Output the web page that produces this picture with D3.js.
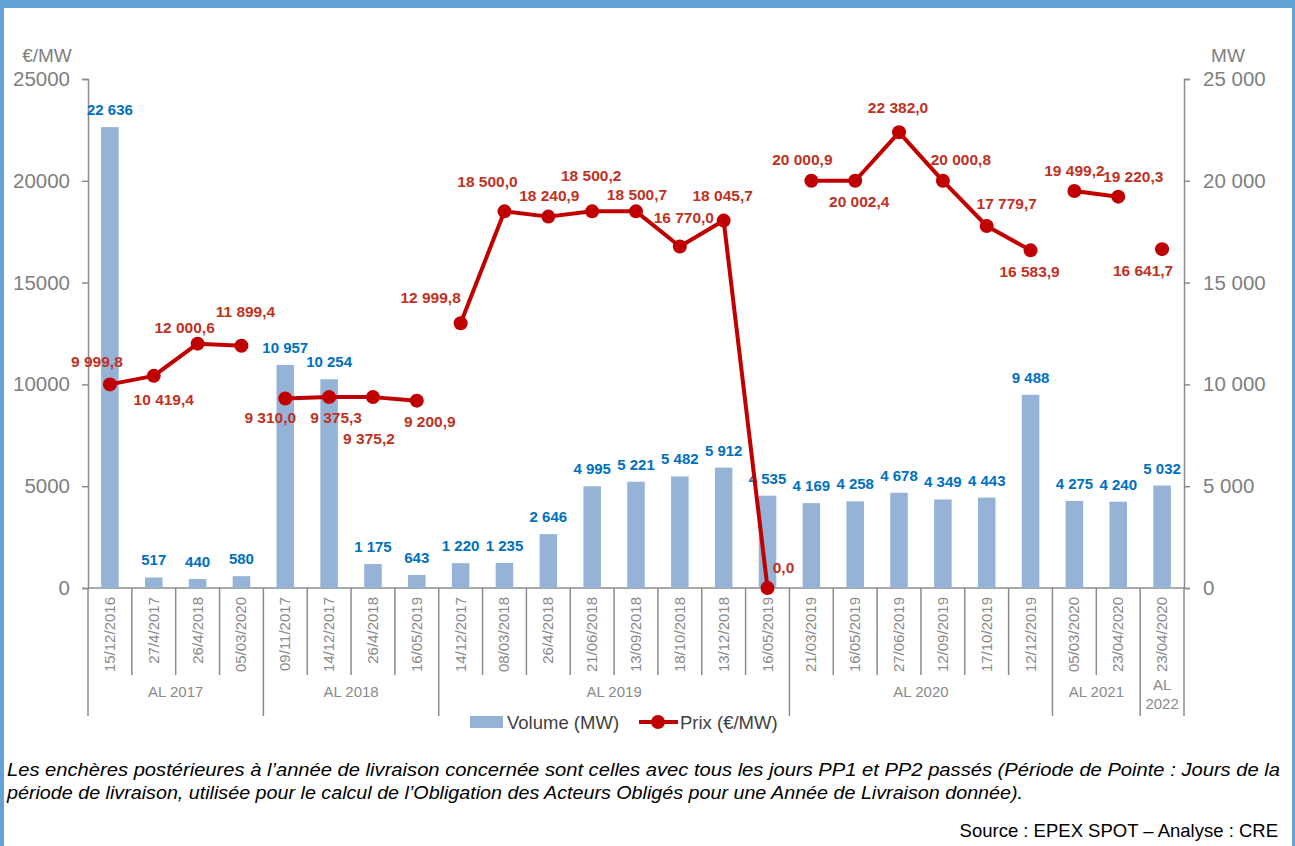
<!DOCTYPE html>
<html>
<head>
<meta charset="utf-8">
<script src="https://cdn.jsdelivr.net/npm/d3@7"></script>
<style>
  html, body { margin: 0; padding: 0; background: #fff; }
  svg { display: block; }
</style>
</head>
<body>
<svg id="chart" width="1295" height="846"></svg>
<script>
// Auction dates (x categories), grouped by delivery year
const dates = ["15/12/2016","27/4/2017","26/4/2018","05/03/2020",
  "09/11/2017","14/12/2017","26/4/2018","16/05/2019",
  "14/12/2017","08/03/2018","26/4/2018","21/06/2018","13/09/2018","18/10/2018","13/12/2018","16/05/2019",
  "21/03/2019","16/05/2019","27/06/2019","12/09/2019","17/10/2019","12/12/2019",
  "05/03/2020","23/04/2020",
  "23/04/2020"];
const groups = [
  { name: ["AL 2017"], size: 4 },
  { name: ["AL 2018"], size: 4 },
  { name: ["AL 2019"], size: 8 },
  { name: ["AL 2020"], size: 6 },
  { name: ["AL 2021"], size: 2 },
  { name: ["AL", "2022"], size: 1 }
];
// Volume allocated (MW)
const volumes = [22636, 517, 440, 580, 10957, 10254, 1175, 643,
  1220, 1235, 2646, 4995, 5221, 5482, 5912, 4535,
  4169, 4258, 4678, 4349, 4443, 9488, 4275, 4240, 5032];
// Clearing price (€/MW)
const prices = [9999.8, 10419.4, 12000.6, 11899.4, 9310.0, 9375.3, 9375.2, 9200.9,
  12999.8, 18500.0, 18240.9, 18500.2, 18500.7, 16770.0, 18045.7, 0.0,
  20000.9, 20002.4, 22382.0, 20000.8, 17779.7, 16583.9, 19499.2, 19220.3, 16641.7];
const leftTicks = [0, 5000, 10000, 15000, 20000, 25000];
const rightTicks = [0, 5000, 10000, 15000, 20000, 25000];

// Price label placement relative to each marker [dx, dy]
const priceLabelShift = [[-13,-23],[10,24],[-13,-16],[4,-34],[-15,19],[7,20],[-4,41],[13,21],
  [-30,-26],[-17,-30],[1,-21],[-1,-36],[1,-17],[4,-29],[-1,-25],[16,-21],
  [-9,-21],[4,21],[-1,-25],[18,-21],[20,-23],[-1,21],[0,-21],[15,-20],[-19,21]];

const svg = d3.select("#chart");
const W = 1295, H = 846;
const x0 = 88, x1 = 1184, yTop = 79, yBase = 588;
const gray = "#7f7f7f", axisGray = "#8c8c8c";
const frFmt = v => d3.format(",")(v).replace(/,/g, " ");
const frFmt1 = v => d3.format(",.1f")(v).replace(/,/g, " ").replace(".", ",");

// page frame
svg.append("rect").attr("x", 0).attr("y", 0).attr("width", W).attr("height", 8).attr("fill", "#64a2d6");
svg.append("rect").attr("x", 0).attr("y", 0).attr("width", 4).attr("height", H).attr("fill", "#64a2d6");
svg.append("rect").attr("x", 1292).attr("y", 0).attr("width", 3).attr("height", H).attr("fill", "#64a2d6");

const x = d3.scaleBand().domain(d3.range(dates.length)).range([x0, x1]).paddingInner(0.6).paddingOuter(0.3);
const xs = d3.scaleBand().domain(d3.range(dates.length)).range([x0, x1]);
const yL = d3.scaleLinear().domain([0, 25000]).range([yBase, yTop]);
const yR = d3.scaleLinear().domain([0, 25000]).range([yBase, yTop]);

// axes
const fontAx = "'Liberation Sans', Arial, sans-serif";
const gL = svg.append("g").attr("transform", `translate(${x0},0)`)
  .call(d3.axisLeft(yL).tickValues(leftTicks).tickSize(6).tickPadding(12).tickFormat(d3.format("d")));
const gR = svg.append("g").attr("transform", `translate(${x1},0)`)
  .call(d3.axisRight(yR).tickValues(rightTicks).tickSize(6).tickPadding(13).tickFormat(frFmt));
[gL, gR].forEach(g => {
  g.select(".domain").attr("stroke", axisGray).attr("stroke-width", 1.5);
  g.selectAll(".tick line").attr("stroke", axisGray).attr("stroke-width", 1.5);
  g.selectAll(".tick text").attr("fill", gray).attr("font-size", 20.5).attr("font-family", fontAx);
});
svg.append("text").attr("x", 47).attr("y", 62).attr("text-anchor", "middle").attr("fill", gray)
  .attr("font-size", 19).attr("font-family", fontAx).text("€/MW");
svg.append("text").attr("x", 1228).attr("y", 62).attr("text-anchor", "middle").attr("fill", gray)
  .attr("font-size", 19).attr("font-family", fontAx).text("MW");

// category axis: baseline, separators, rotated dates, group names
const sep = svg.append("g").attr("stroke", axisGray).attr("stroke-width", 1.5);
sep.append("line").attr("x1", x0).attr("x2", x1).attr("y1", yBase).attr("y2", yBase);
let start = 0;
const groupBounds = [];
groups.forEach(g => { groupBounds.push([start, start + g.size]); start += g.size; });
const groupEdges = new Set(groupBounds.map(b => b[0]).concat([dates.length]));
for (let i = 0; i <= dates.length; i++) {
  const xx = i < dates.length ? xs(i) : x1;
  sep.append("line").attr("x1", xx).attr("x2", xx).attr("y1", yBase)
    .attr("y2", groupEdges.has(i) ? 716 : 675);
}
svg.append("g").selectAll("text").data(dates).join("text")
  .attr("transform", (d, i) => `translate(${xs(i) + xs.bandwidth() / 2 + 5},597) rotate(-90)`)
  .attr("text-anchor", "end").attr("fill", "#8a8a8a").attr("font-size", 15)
  .attr("font-family", fontAx).text(d => d);
svg.append("g").selectAll("text").data(groups).join("text")
  .attr("x", (d, i) => (xs(groupBounds[i][0]) + (groupBounds[i][1] < dates.length ? xs(groupBounds[i][1]) : x1)) / 2)
  .attr("y", d => d.name.length > 1 ? 690 : 697)
  .attr("text-anchor", "middle").attr("fill", "#8a8a8a").attr("font-size", 15).attr("font-family", fontAx)
  .each(function (d) {
    const t = d3.select(this);
    d.name.forEach((n, k) => t.append("tspan").attr("x", t.attr("x")).attr("dy", k ? 19 : 0).text(n));
  });

// volume bars
svg.append("g").selectAll("rect").data(volumes).join("rect")
  .attr("x", (d, i) => x(i)).attr("width", x.bandwidth())
  .attr("y", d => yR(d)).attr("height", d => yBase - yR(d)).attr("fill", "#95b3d7");
const fontLbl = "'Liberation Sans', Arial, sans-serif";
svg.append("g").selectAll("text").data(volumes).join("text")
  .attr("x", (d, i) => x(i) + x.bandwidth() / 2).attr("y", d => yR(d) - 12)
  .attr("text-anchor", "middle").attr("fill", "#0070c0").attr("font-weight", "bold")
  .attr("font-size", 15).attr("font-family", fontLbl).text(frFmt);

// price lines, one segment per delivery year
const red = "#c00000";
const line = d3.line().x(i => x(i) + x.bandwidth() / 2).y(i => yL(prices[i]));
groupBounds.forEach(([a, b]) => {
  svg.append("path").datum(d3.range(a, b)).attr("d", line)
    .attr("fill", "none").attr("stroke", red).attr("stroke-width", 4).attr("stroke-linejoin", "round");
});
svg.append("g").selectAll("circle").data(prices).join("circle")
  .attr("cx", (d, i) => x(i) + x.bandwidth() / 2).attr("cy", d => yL(d)).attr("r", 7).attr("fill", red);
svg.append("g").selectAll("text").data(prices).join("text")
  .attr("x", (d, i) => x(i) + x.bandwidth() / 2 + priceLabelShift[i][0])
  .attr("y", (d, i) => yL(d) + priceLabelShift[i][1]).attr("dy", "0.36em")
  .attr("text-anchor", "middle").attr("fill", "#c0311f").attr("font-weight", "bold")
  .attr("font-size", 15.5).attr("font-family", fontLbl).text(frFmt1);

// legend
const lg = svg.append("g");
lg.append("rect").attr("x", 470).attr("y", 716).attr("width", 33).attr("height", 12).attr("fill", "#95b3d7");
lg.append("text").attr("x", 507).attr("y", 729).attr("fill", "#404040").attr("font-size", 18.5)
  .attr("font-family", fontAx).text("Volume (MW)");
lg.append("line").attr("x1", 639).attr("x2", 678).attr("y1", 722).attr("y2", 722).attr("stroke", red).attr("stroke-width", 4);
lg.append("circle").attr("cx", 658).attr("cy", 722).attr("r", 7).attr("fill", red);
lg.append("text").attr("x", 680).attr("y", 729).attr("fill", "#404040").attr("font-size", 18.5)
  .attr("font-family", fontAx).text("Prix (€/MW)");

// footnote and source
const fontNote = "'Liberation Sans', Arial, sans-serif";
svg.append("text").attr("x", 7).attr("y", 776).attr("font-style", "italic").attr("font-size", 18)
  .attr("font-family", fontNote).attr("fill", "#000")
  .attr("textLength", 1273).attr("lengthAdjust", "spacingAndGlyphs")
  .text("Les enchères postérieures à l’année de livraison concernée sont celles avec tous les jours PP1 et PP2 passés (Période de Pointe : Jours de la");
svg.append("text").attr("x", 7).attr("y", 799).attr("font-style", "italic").attr("font-size", 18)
  .attr("font-family", fontNote).attr("fill", "#000")
  .attr("textLength", 1016).attr("lengthAdjust", "spacingAndGlyphs")
  .text("période de livraison, utilisée pour le calcul de l’Obligation des Acteurs Obligés pour une Année de Livraison donnée).");
svg.append("text").attr("x", 1278).attr("y", 837).attr("text-anchor", "end").attr("font-size", 18.5)
  .attr("font-family", fontNote).attr("fill", "#000").text("Source : EPEX SPOT – Analyse : CRE");
</script>
</body>
</html>
